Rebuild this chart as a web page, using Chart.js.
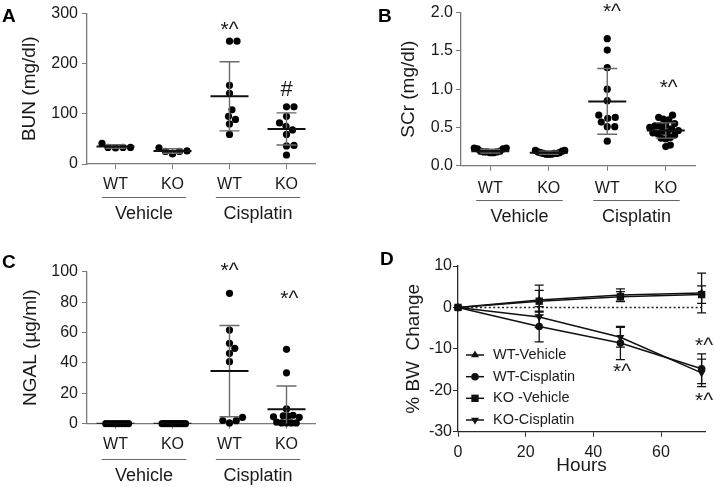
<!DOCTYPE html>
<html><head><meta charset="utf-8">
<script src="https://cdn.jsdelivr.net/npm/chart.js@4.4.1/dist/chart.umd.min.js"></script>
<style>
html,body{margin:0;padding:0;background:#fff;}
body{width:714px;height:487px;position:relative;overflow:hidden;}
.p{position:absolute;}
canvas{display:block;}
</style></head><body>
<div class="p" style="left:0;top:0"><canvas id="cA" width="357" height="240"></canvas></div>
<div class="p" style="left:357px;top:0"><canvas id="cB" width="357" height="240"></canvas></div>
<div class="p" style="left:0;top:240px"><canvas id="cC" width="357" height="247"></canvas></div>
<div class="p" style="left:357px;top:240px"><canvas id="cD" width="357" height="247"></canvas></div>
<script>
// ================= DATA =================
const categories = ['WT', 'KO', 'WT', 'KO'];
const treatmentGroups = ['Vehicle', 'Cisplatin'];

// Panel A: BUN (mg/dl)
const bunWTVehicle   = [41, 33, 32, 33, 33];
const bunKOVehicle   = [32, 25, 20, 25, 26];
const bunWTCisplatin = [245, 245, 157, 141, 108, 95, 89, 80, 59];
const bunKOCisplatin = [114, 114, 95, 82, 75, 68, 59, 37, 36, 18];
const bunMean = [35, 26, 135, 70];
const bunSD   = [3.5, 4.5, 69, 32];
const bunTicks = [0, 100, 200, 300];
const bunMarks = ['*^', '#'];
const bunMarkAt = [[2, 255], [3, 136]];

// Panel B: SCr (mg/dl)
const scrWTVehicle   = [0.23, 0.22, 0.23, 0.22, 0.19, 0.18, 0.17, 0.18, 0.17, 0.19, 0.18];
const scrKOVehicle   = [0.20, 0.19, 0.17, 0.16, 0.15, 0.15, 0.15, 0.16, 0.16, 0.17, 0.18, 0.20];
const scrWTCisplatin = [1.66, 1.51, 1.28, 1.00, 0.85, 0.62, 0.63, 0.66, 0.57, 0.51, 0.51, 0.32];
const scrKOCisplatin = [0.66, 0.63, 0.61, 0.60, 0.55, 0.53, 0.52, 0.52, 0.50, 0.48, 0.46, 0.45, 0.44, 0.43, 0.42, 0.40, 0.37, 0.36, 0.35, 0.27, 0.25];
const scrMean = [0.19, 0.17, 0.84, 0.46];
const scrSD   = [0.025, 0.02, 0.43, 0.10];
const scrTicks = [0, 0.5, 1.0, 1.5, 2.0];
const scrMarks = ['*^', '*^'];
const scrMarkAt = [[2.08, 1.93], [3.05, 0.94]];

// Panel C: NGAL (µg/ml)
const ngalWTVehicle   = [0, 0, 0, 0, 0, 0, 0, 0];
const ngalKOVehicle   = [0, 0, 0, 0, 0, 0, 0, 0, 0, 0];
const ngalWTCisplatin = [85.8, 61.6, 52.9, 49.6, 46.3, 40.8, 4.2, 2.1, 2.0, 0.5];
const ngalKOCisplatin = [48.9, 33.5, 9.7, 5.5, 5.2, 5.0, 4.5, 4.2, 1.0, 0.5, 0.5, 0.5, 0.5];
const ngalMean = [0, 0, 34.6, 9.5];
const ngalSD   = [0, 0, 30, 15.3];
const ngalTicks = [0, 20, 40, 60, 80, 100];
const ngalMarks = ['*^', '*^'];
const ngalMarkAt = [[2, 96.5], [3.05, 78]];

// Panel D: % BW change vs hours
const hours = [0, 24, 48, 72];
const hourTicks = [0, 20, 40, 60];
const bwTicks = [-30, -20, -10, 0, 10];
const bwSeriesNames = ['WT-Vehicle', 'WT-Cisplatin', 'KO -Vehicle', 'KO-Cisplatin'];
const bwWTVehicle     = [0, 1.8, 3.0, 3.5];
const bwWTCisplatin   = [0, -4.6, -8.6, -14.8];
const bwKOVehicle     = [0, 1.5, 2.6, 3.1];
const bwKOCisplatin   = [0, -2.3, -7.2, -15.8];
const bwWTVehicleSD   = [0, 3.6, 1.5, 4.8];
const bwWTCisplatinSD = [0, 3.7, 4.0, 3.6];
const bwKOVehicleSD   = [0, 2.6, 1.2, 2.1];
const bwKOCisplatinSD = [0, 2.5, 2.4, 3.3];
const bwMarks = ['*^', '*^', '*^'];
const bwMarkAt = [[48.5, -17], [72.7, -10.7], [72.7, -24]];

// ================= STYLE / HELPERS =================
const FONT = "'Liberation Sans', Arial, Helvetica, sans-serif";
Chart.defaults.font.family = FONT;
Chart.defaults.color = '#1a1a1a';
Chart.defaults.animation = false;
const TXT = '#1a1a1a';

const meanSdPlugin = {
  id: 'meanSd',
  afterDatasetsDraw(chart, args, o) {
    if (!o || !o.means) return;
    const {ctx, chartArea: ca, scales: {x, y}} = chart;
    ctx.save();
    ctx.beginPath(); ctx.rect(ca.left, ca.top - 3, ca.right - ca.left, ca.bottom - ca.top + 3); ctx.clip();
    o.means.forEach((m, i) => {
      const sd = o.sds[i];
      const px = x.getPixelForValue(i);
      if (sd > 0) {
        const pt = y.getPixelForValue(m + sd), pb = y.getPixelForValue(m - sd);
        ctx.strokeStyle = o.sdColor; ctx.lineWidth = o.sdWidth;
        ctx.beginPath();
        ctx.moveTo(px, pt); ctx.lineTo(px, pb);
        ctx.moveTo(px - o.capHalf, pt); ctx.lineTo(px + o.capHalf, pt);
        ctx.moveTo(px - o.capHalf, pb); ctx.lineTo(px + o.capHalf, pb);
        ctx.stroke();
      }
      const pm = y.getPixelForValue(m);
      ctx.strokeStyle = o.meanColor; ctx.lineWidth = o.meanWidth;
      ctx.beginPath(); ctx.moveTo(px - o.meanHalf, pm); ctx.lineTo(px + o.meanHalf, pm); ctx.stroke();
    });
    ctx.restore();
  }
};

const groupPlugin = {
  id: 'groupLabels',
  afterDraw(chart, args, o) {
    if (!o || !o.groups) return;
    const {ctx, chartArea: ca, scales: {x}} = chart;
    ctx.save();
    o.groups.forEach(g => {
      const x1 = x.getPixelForValue(g.from - o.ext), x2 = x.getPixelForValue(g.to + o.ext);
      const yl = Math.round(ca.bottom + o.lineOffset) + 0.5;
      ctx.strokeStyle = o.lineColor; ctx.lineWidth = 1;
      ctx.beginPath(); ctx.moveTo(x1, yl); ctx.lineTo(x2, yl); ctx.stroke();
      ctx.fillStyle = TXT; ctx.font = o.font; ctx.textAlign = 'center'; ctx.textBaseline = 'middle';
      ctx.fillText(g.label, (x.getPixelForValue(g.from) + x.getPixelForValue(g.to)) / 2, ca.bottom + o.labelOffset);
    });
    ctx.restore();
  }
};

const annotPlugin = {
  id: 'annots',
  afterDraw(chart, args, o) {
    if (!o || !o.texts) return;
    const {ctx, scales: {x, y}} = chart;
    ctx.save();
    ctx.fillStyle = TXT; ctx.textAlign = 'center'; ctx.textBaseline = 'alphabetic';
    o.texts.forEach((t, i) => {
      ctx.font = (t === '#' ? o.hashFont : o.font);
      ctx.fillText(t, x.getPixelForValue(o.at[i][0]), y.getPixelForValue(o.at[i][1]));
    });
    ctx.restore();
  }
};

const letterPlugin = {
  id: 'panelLetter',
  afterDraw(chart, args, o) {
    if (!o || !o.text) return;
    const ctx = chart.ctx;
    ctx.save();
    ctx.fillStyle = '#000'; ctx.font = 'bold 19px ' + FONT; ctx.textAlign = 'left'; ctx.textBaseline = 'alphabetic';
    ctx.fillText(o.text, o.x, o.y);
    ctx.restore();
  }
};

// beeswarm layout of dots around each category column (pixel-space, from scale values)
function swarm(chart, values, cat, diam, maxHalf) {
  const xs = chart.scales.x, ys = chart.scales.y;
  const unit = xs.getPixelForValue(1) - xs.getPixelForValue(0);
  const pts = values.map((v, i) => ({v, py: ys.getPixelForValue(v), ox: 0}));
  const order = pts.slice().sort((a, b) => a.v - b.v);
  const placed = [];
  for (const p of order) {
    let best = 0;
    for (let k = 0; k < 800; k++) {
      const off = k === 0 ? 0 : (k % 2 ? 1 : -1) * Math.ceil(k / 2) * 0.5;
      if (placed.every(q => Math.hypot(q.ox - off, q.py - p.py) >= diam)) { best = off; break; }
    }
    p.ox = best; placed.push(p);
  }
  const m = Math.max(0, ...pts.map(p => Math.abs(p.ox)));
  const s = m > maxHalf ? maxHalf / m : 1;
  return pts.map(p => ({x: cat + p.ox * s / unit, y: p.v}));
}

function axisCommon(color) {
  return {
    grid: {display: true, drawOnChartArea: false, drawTicks: true, tickLength: 5, color: color, lineWidth: 1},
    border: {display: true, color: color, width: 1.3}
  };
}

function makeDotChart(id, cfg) {
  const el = document.getElementById(id);
  const W = el.width, H = el.height, a = cfg.area;
  const AX = '#7a7a7a';
  const chart = new Chart(el, {
    type: 'scatter',
    data: {
      datasets: cfg.series.map((vals, k) => ({
        data: vals.map(v => ({x: k, y: v})),
        pointRadius: 3.6, pointHoverRadius: 3.6, pointBackgroundColor: '#000', pointBorderWidth: 0,
        showLine: false, clip: false
      }))
    },
    options: {
      responsive: false, animation: false, events: [],
      layout: {padding: {left: 0, top: a.top, right: W - a.right, bottom: 0}},
      plugins: {
        legend: {display: false}, tooltip: {enabled: false},
        meanSd: {means: cfg.mean, sds: cfg.sd, meanHalf: 19, capHalf: 10, meanWidth: 2, sdWidth: 1.4, meanColor: '#111', sdColor: '#6a6a6a'},
        groupLabels: {groups: treatmentGroups.map((g, i) => ({label: g, from: 2 * i, to: 2 * i + 1})), ext: 0.24,
                      lineOffset: cfg.groupLine, labelOffset: cfg.groupLabel, lineColor: '#666', font: '18px ' + FONT},
        annots: {texts: cfg.marks, at: cfg.markAt, font: '21px ' + FONT, hashFont: '22px ' + FONT},
        panelLetter: cfg.letter
      },
      scales: {
        x: Object.assign(axisCommon(AX), {
          type: 'linear', min: -0.5, max: 3.5,
          afterFit: s => { s.height = H - a.bottom; },
          afterBuildTicks: s => { s.ticks = categories.map((c, i) => ({value: i})); },
          ticks: {callback: v => categories[v], font: {size: 16}, color: TXT, padding: cfg.xPad, autoSkip: false, maxRotation: 0}
        }),
        y: Object.assign(axisCommon(AX), {
          min: cfg.ticks[0], max: cfg.ticks[cfg.ticks.length - 1],
          afterFit: s => { s.width = a.left; },
          afterBuildTicks: s => { s.ticks = cfg.ticks.map(v => ({value: v})); },
          ticks: {callback: cfg.fmt, font: {size: 16}, color: TXT, padding: cfg.yPad},
          title: {display: true, text: cfg.title, font: {size: 19}, color: TXT, padding: {top: cfg.titlePad, bottom: 0}}
        })
      }
    },
    plugins: [meanSdPlugin, groupPlugin, annotPlugin, letterPlugin]
  });
  chart.data.datasets.forEach((ds, k) => { ds.data = swarm(chart, cfg.series[k], k, 7.2, cfg.maxHalf); });
  chart.update('none');
  return chart;
}

makeDotChart('cA', {
  series: [bunWTVehicle, bunKOVehicle, bunWTCisplatin, bunKOCisplatin],
  mean: bunMean, sd: bunSD, ticks: bunTicks, fmt: v => String(v),
  title: 'BUN (mg/dl)', titlePad: 18.5, area: {left: 87, right: 315, top: 12, bottom: 164},
  xPad: 6, yPad: 4, groupLine: 33, groupLabel: 50, maxHalf: 15,
  marks: bunMarks, markAt: bunMarkAt, letter: {text: 'A', x: 2, y: 22}
});
makeDotChart('cB', {
  series: [scrWTVehicle, scrKOVehicle, scrWTCisplatin, scrKOCisplatin],
  mean: scrMean, sd: scrSD, ticks: scrTicks, fmt: v => Number(v).toFixed(1),
  title: 'SCr (mg/dl)', titlePad: 40.5, area: {left: 104, right: 338, top: 9.3, bottom: 165.7},
  xPad: 8, yPad: 3, groupLine: 34.5, groupLabel: 51.5, maxHalf: 16,
  marks: scrMarks, markAt: scrMarkAt, letter: {text: 'B', x: 21, y: 22}
});
makeDotChart('cC', {
  series: [ngalWTVehicle, ngalKOVehicle, ngalWTCisplatin, ngalKOCisplatin],
  mean: ngalMean, sd: ngalSD, ticks: ngalTicks, fmt: v => String(v),
  title: 'NGAL (µg/ml)', titlePad: 19.5, area: {left: 87, right: 315, top: 31.7, bottom: 183.7},
  xPad: 6.5, yPad: 4, groupLine: 35, groupLabel: 52, maxHalf: 13,
  marks: ngalMarks, markAt: ngalMarkAt, letter: {text: 'C', x: 2, y: 28}
});

// ---------- Panel D ----------
const errBarPlugin = {
  id: 'errBars',
  beforeDatasetsDraw(chart, args, o) {
    if (!o || !o.sds) return;
    const {ctx, scales: {x, y}} = chart;
    ctx.save();
    // dotted zero line
    const y0 = y.getPixelForValue(0);
    ctx.strokeStyle = '#222'; ctx.lineWidth = 1.6; ctx.setLineDash([2, 2.4]);
    ctx.beginPath(); ctx.moveTo(x.getPixelForValue(hours[0]), y0); ctx.lineTo(x.getPixelForValue(hours[hours.length - 1]), y0); ctx.stroke();
    ctx.setLineDash([]);
    ctx.strokeStyle = '#111'; ctx.lineWidth = 1.3;
    chart.data.datasets.forEach((ds, k) => {
      ds.data.forEach((p, i) => {
        const sd = o.sds[k][i];
        if (!(sd > 0)) return;
        const px = x.getPixelForValue(p.x), pt = y.getPixelForValue(p.y + sd), pb = y.getPixelForValue(p.y - sd);
        ctx.beginPath();
        ctx.moveTo(px, pt); ctx.lineTo(px, pb);
        ctx.moveTo(px - o.capHalf, pt); ctx.lineTo(px + o.capHalf, pt);
        ctx.moveTo(px - o.capHalf, pb); ctx.lineTo(px + o.capHalf, pb);
        ctx.stroke();
      });
    });
    ctx.restore();
  }
};

const boxLegendPlugin = {
  id: 'boxLegend',
  afterDraw(chart, args, o) {
    if (!o || !o.rows) return;
    const ctx = chart.ctx;
    ctx.save();
    chart.data.datasets.forEach((ds, k) => {
      const yy = o.rows[k];
      ctx.strokeStyle = '#111'; ctx.lineWidth = 1.5;
      ctx.beginPath(); ctx.moveTo(o.lineX1, yy); ctx.lineTo(o.lineX2, yy); ctx.stroke();
      ctx.fillStyle = '#111';
      const opt = {pointStyle: ds.pointStyle, rotation: ds.pointRotation || 0, radius: ds.pointRadius, borderWidth: 0};
      if (Chart.helpers && Chart.helpers.drawPoint) {
        Chart.helpers.drawPoint(ctx, opt, (o.lineX1 + o.lineX2) / 2, yy);
      } else {
        ctx.beginPath(); ctx.arc((o.lineX1 + o.lineX2) / 2, yy, 3.5, 0, Math.PI * 2); ctx.fill();
      }
      ctx.fillStyle = TXT; ctx.font = o.font; ctx.textAlign = 'left'; ctx.textBaseline = 'middle';
      ctx.fillText(ds.label, o.textX, yy);
    });
    ctx.restore();
  }
};

(function () {
  const el = document.getElementById('cD');
  const W = el.width, H = el.height;
  const a = {left: 101, right: 348, top: 26, bottom: 191.7};
  const AX = '#2a2a2a';
  const means = [bwWTVehicle, bwWTCisplatin, bwKOVehicle, bwKOCisplatin];
  const sds = [bwWTVehicleSD, bwWTCisplatinSD, bwKOVehicleSD, bwKOCisplatinSD];
  const styles = ['triangle', 'circle', 'rect', 'triangle'];
  const rots = [0, 0, 0, 180];
  const radii = [4.6, 3.8, 5.2, 4.6];
  new Chart(el, {
    type: 'line',
    data: {
      datasets: means.map((m, k) => ({
        label: bwSeriesNames[k],
        data: hours.map((h, i) => ({x: h, y: m[i]})),
        borderColor: '#111', borderWidth: 1.5, tension: 0, fill: false,
        pointStyle: styles[k], pointRotation: rots[k], pointRadius: radii[k], pointHoverRadius: radii[k],
        pointBackgroundColor: '#111', pointBorderColor: '#111', pointBorderWidth: 0, clip: false
      }))
    },
    options: {
      responsive: false, animation: false, events: [],
      layout: {padding: {left: 0, top: a.top, right: W - a.right, bottom: 0}},
      plugins: {
        legend: {display: false}, tooltip: {enabled: false},
        errBars: {sds: sds, capHalf: 4.5},
        boxLegend: {rows: [115, 136.7, 158.3, 180], lineX1: 109, lineX2: 127, textX: 136, font: '14.5px ' + FONT},
        annots: {texts: bwMarks, at: bwMarkAt, font: '21px ' + FONT, hashFont: '22px ' + FONT},
        panelLetter: {text: 'D', x: 23, y: 25}
      },
      scales: {
        x: Object.assign(axisCommon(AX), {
          type: 'linear', min: 0, max: 73,
          afterFit: s => { s.height = H - a.bottom; },
          afterBuildTicks: s => { s.ticks = hourTicks.map(v => ({value: v})); },
          ticks: {font: {size: 16}, color: TXT, padding: 6, maxRotation: 0},
          title: {display: true, text: 'Hours', font: {size: 19}, color: TXT, padding: {top: 0, bottom: 9.5}}
        }),
        y: Object.assign(axisCommon(AX), {
          min: -30, max: 10,
          afterFit: s => { s.width = a.left; },
          afterBuildTicks: s => { s.ticks = bwTicks.map(v => ({value: v})); },
          ticks: {font: {size: 16}, color: TXT, padding: 1},
          title: {display: true, text: '% BW  Change', font: {size: 19}, color: TXT, padding: {top: 45, bottom: 0}}
        })
      }
    },
    plugins: [errBarPlugin, boxLegendPlugin, annotPlugin, letterPlugin]
  });
})();
</script>
</body></html>
